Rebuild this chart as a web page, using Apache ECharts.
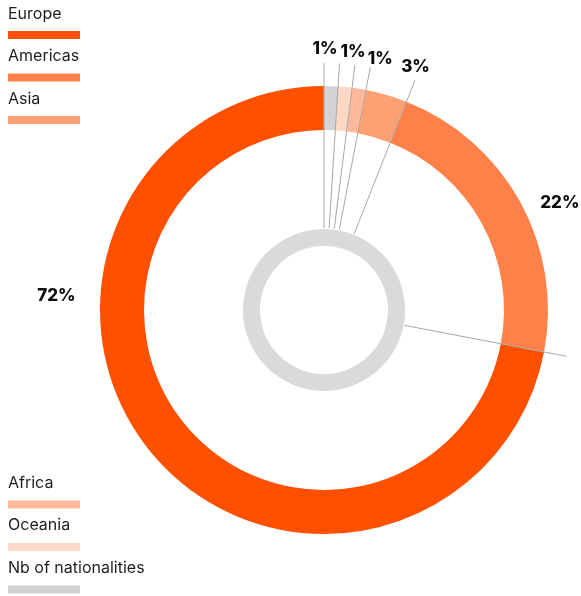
<!DOCTYPE html>
<html>
<head>
<meta charset="utf-8">
<script src="https://cdn.jsdelivr.net/npm/echarts@6/dist/echarts.min.js"></script>
<style>
  html, body { margin: 0; padding: 0; background: #fff; }
  #chart { width: 581px; height: 596px; }
</style>
</head>
<body>
<div id="chart"></div>
<script>
// Share by region of nationality, in percent
const regions = ['Europe', 'Americas', 'Asia', 'Africa', 'Oceania', 'Nb of nationalities'];
const shares = [72, 22, 3, 1, 1, 1];
const regionColors = ['#ff5000', '#ff8149', '#ffa072', '#ffb899', '#ffd7c5', '#d3d3d3'];
const legendTopNames = ['Europe', 'Americas', 'Asia'];
const legendBottomNames = ['Africa', 'Oceania', 'Nb of nationalities'];

// Geometry of the rings
const CX = 324, CY = 310;
const FONT = 'Inter, "Noto Sans", sans-serif';
// Where each percentage label sits: [angle clockwise from 12 o'clock, distance from centre]
const labelPolar = [[273, 268], [65.6, 259], [20.6, 260], [12.6, 257.5], [6.4, 259.6], [0.2, 261]];

const total = shares.reduce((a, b) => a + b, 0);
// Start of each slice along the ring (cumulative shares)
const sliceStarts = shares.map((_, i) => shares.slice(0, i).reduce((a, b) => a + b, 0));

const chart = echarts.init(document.getElementById('chart'), null, { renderer: 'canvas' });

function textLegend(names, top) {
  return {
    data: names, orient: 'vertical', left: 3, top: top, padding: 0,
    itemWidth: 0, itemHeight: 20, itemGap: 22.5, icon: 'rect', selectedMode: false,
    textStyle: { fontFamily: FONT, fontSize: 16, lineHeight: 20, color: '#1e1e1e' }
  };
}
function swatchLegend(names, top) {
  return {
    data: names, orient: 'vertical', left: 8, top: top, padding: 0,
    itemWidth: 72, itemHeight: 8, itemGap: 34.5, icon: 'rect', selectedMode: false,
    formatter: () => '',
    textStyle: { fontSize: 1, lineHeight: 1 }
  };
}

chart.setOption({
  animation: false,
  backgroundColor: '#fff',
  legend: [
    textLegend(legendTopNames, 4),
    swatchLegend(legendTopNames, 31),
    textLegend(legendBottomNames, 473),
    swatchLegend(legendBottomNames, 500.5)
  ],
  polar: { center: [CX, CY], radius: [82, 247] },
  angleAxis: { type: 'value', min: 0, max: total, startAngle: 90, clockwise: false, show: false },
  radiusAxis: { type: 'value', min: 0, max: 1, show: false },
  series: [
    {
      type: 'pie',
      name: 'Regions',
      center: [CX, CY],
      radius: [180, 224],
      startAngle: 90,
      clockwise: false,
      avoidLabelOverlap: false,
      itemStyle: { borderWidth: 0 },
      emphasis: { scale: false },
      label: {
        show: true,
        position: 'outside',
        formatter: p => p.value + '%',
        fontFamily: FONT,
        fontWeight: 800,
        fontSize: 17,
        color: '#0d0d0d'
      },
      labelLine: { show: false },
      labelLayout: params => {
        const [ang, r] = labelPolar[params.dataIndex];
        const t = ang * Math.PI / 180;
        return { x: CX + r * Math.sin(t), y: CY - r * Math.cos(t), align: 'center', verticalAlign: 'middle' };
      },
      data: regions.map((name, i) => ({ name, value: shares[i], itemStyle: { color: regionColors[i] } }))
    },
    {
      type: 'pie',
      name: 'Nationalities',
      center: [CX, CY],
      radius: [64, 81],
      silent: true,
      itemStyle: { borderWidth: 0 },
      label: { show: false },
      labelLine: { show: false },
      data: [{ name: 'Nb of nationalities', value: total, itemStyle: { color: '#dadada' } }]
    },
    {
      // Thin rules running out from the inner ring at every slice boundary
      type: 'custom',
      name: 'Boundaries',
      coordinateSystem: 'polar',
      silent: true,
      z: 5,
      encode: { radius: 0, angle: 1 },
      data: sliceStarts.map(s => [1, s]),
      renderItem: (params, api) => {
        const a = api.value(1);
        const p0 = api.coord([0, a]);
        const p1 = api.coord([1, a]);
        return {
          type: 'line',
          shape: { x1: p0[0], y1: p0[1], x2: p1[0], y2: p1[1] },
          style: { stroke: '#a8a8a8', lineWidth: 1 }
        };
      }
    }
  ]
});
</script>
</body>
</html>
